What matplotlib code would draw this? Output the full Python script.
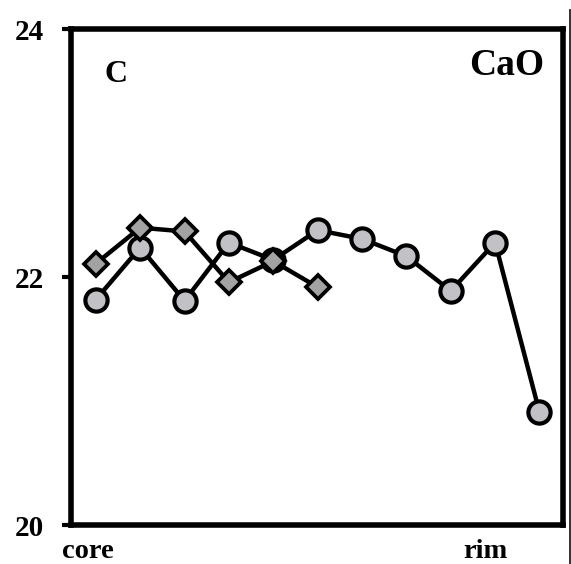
import matplotlib
matplotlib.use('Agg')
import matplotlib.pyplot as plt
from matplotlib.lines import Line2D

# 値
circle_x = [1, 2, 3, 4, 5, 6, 7, 8, 9, 10, 11]
circle_cao = [21.82, 22.24, 21.81, 22.28, 22.14, 22.38, 22.31, 22.17, 21.89, 22.28, 20.91]
diamond_x = [1, 2, 3, 4, 5, 6]
diamond_cao = [22.11, 22.40, 22.37, 21.96, 22.13, 21.92]
y_ticks = [20, 22, 24]

plt.rcParams['font.family'] = ['Liberation Serif', 'DejaVu Serif']
plt.rcParams['font.weight'] = 'bold'

fig = plt.figure(figsize=(5.71, 5.64), dpi=100)
ax = fig.add_axes([0.1243, 0.0691, 0.8617, 0.8786])

ax.plot(circle_x, circle_cao, color='black', lw=3.2, marker='o', ms=16,
        mfc='#c2c1c6', mec='black', mew=3.0, zorder=3)
ax.plot(diamond_x, diamond_cao, color='black', lw=3.2, marker='D', ms=12.5,
        mfc='#a3a3a3', mec='black', mew=2.7, zorder=4)

ax.set_xlim(0.44, 11.53)
ax.set_ylim(20, 24)
ax.set_xticks([])
ax.set_yticks(y_ticks)
ax.tick_params(axis='y', length=6.5, width=3, pad=13, labelsize=21)
for lab in ax.get_yticklabels():
    lab.set_fontweight('bold')
for sp in ax.spines.values():
    sp.set_linewidth(4)

ax.text(0.069, 0.894, 'C', transform=ax.transAxes, fontsize=23,
        fontweight='bold', ha='left', va='baseline')
ax.text(0.961, 0.908, 'CaO', transform=ax.transAxes, fontsize=27,
        fontweight='bold', ha='right', va='baseline')
ax.text(-0.018, -0.066, 'core', transform=ax.transAxes, fontsize=20.5,
        fontweight='bold', ha='left', va='baseline')
ax.text(0.888, -0.066, 'rim', transform=ax.transAxes, fontsize=20.5,
        fontweight='bold', ha='right', va='baseline')

# 右端の細い縦線
fig.add_artist(Line2D([0.9974, 0.9974], [0.0, 0.982], color='#222222', lw=1.3))

fig.savefig('out.png', dpi=100)
plt.close(fig)
